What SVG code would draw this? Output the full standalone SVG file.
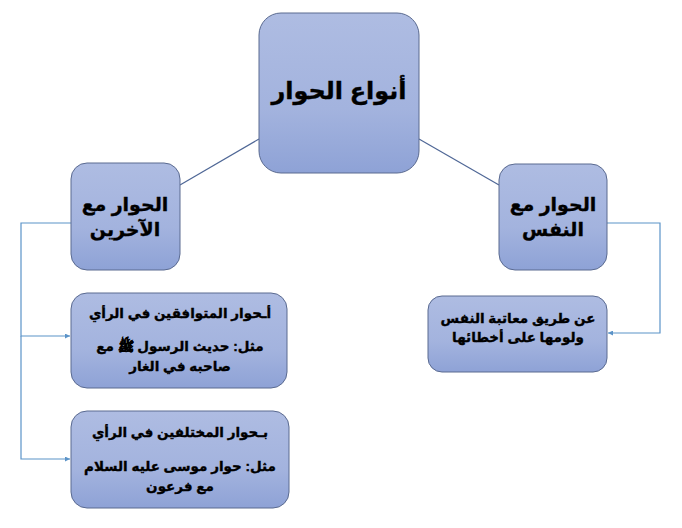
<svg xmlns="http://www.w3.org/2000/svg" width="682" height="528" viewBox="0 0 682 528">
<defs>
<linearGradient id="g" x1="0" y1="0" x2="0" y2="1">
<stop offset="0" stop-color="#aebce2"/>
<stop offset="0.6" stop-color="#a3b3de"/>
<stop offset="1" stop-color="#8ea2d6"/>
</linearGradient>
<marker id="arr" viewBox="0 0 10 10" refX="10" refY="5" markerWidth="5" markerHeight="5" orient="auto" markerUnits="userSpaceOnUse">
<path d="M0,0 L10,5 L0,10 z" fill="#5b93c8"/>
</marker>
<style>
.node{fill:url(#g);stroke:#5a6a90;stroke-width:1}
.t{font-family:"Liberation Sans","DejaVu Sans",sans-serif;font-weight:bold;fill:#000;stroke:#000;stroke-width:0.35;text-anchor:middle;direction:rtl}
.diag{stroke:#4f6796;stroke-width:1.2;fill:none}
.elbow{stroke:#5b93c8;stroke-width:1.2;fill:none}
</style>
</defs>
<rect width="682" height="528" fill="#fff"/>
<g id="connectors">
<line class="diag" x1="259" y1="139" x2="180" y2="185"/>
<line class="diag" x1="419" y1="139" x2="499" y2="185"/>
<polyline class="elbow" points="71,223 21,223 21,336 70,336" marker-end="url(#arr)"/>
<polyline class="elbow" points="21,336 21,459 70,459" marker-end="url(#arr)"/>
<polyline class="elbow" points="607,223 660,223 660,333 608,333" marker-end="url(#arr)"/>
</g>
<g id="root">
<rect class="node" x="259" y="13" width="160" height="160" rx="22"/>
<text class="t" x="339" y="99" font-size="24">أنواع الحوار</text>
</g>
<g id="others">
<rect class="node" x="71" y="163" width="109" height="107" rx="16"/>
<text class="t" x="125" y="211" font-size="19">الحوار مع</text>
<text class="t" x="125" y="236" font-size="19">الآخرين</text>
</g>
<g id="self">
<rect class="node" x="499" y="164" width="108" height="106" rx="16"/>
<text class="t" x="553" y="211" font-size="19">الحوار مع</text>
<text class="t" x="553" y="236" font-size="19">النفس</text>
</g>
<g id="boxA">
<rect class="node" x="71" y="293" width="216" height="95" rx="16"/>
<text class="t" x="180" y="318" font-size="13.5">أـحوار المتوافقين في الرأي</text>
<text class="t" x="180" y="351" font-size="13.5">مثل: حديث الرسول ﷺ مع</text>
<text class="t" x="180" y="371" font-size="13.5">صاحبه في الغار</text>
</g>
<g id="boxB">
<rect class="node" x="71" y="411" width="218" height="97" rx="16"/>
<text class="t" x="180" y="437" font-size="13.5">بـحوار المختلفين في الرأي</text>
<text class="t" x="180" y="471" font-size="13.5">مثل: حوار موسى عليه السلام</text>
<text class="t" x="180" y="491" font-size="13.5">مع فرعون</text>
</g>
<g id="selfBox">
<rect class="node" x="428" y="296" width="179" height="76" rx="14"/>
<text class="t" x="518" y="323" font-size="13.5">عن طريق معاتبة النفس</text>
<text class="t" x="518" y="342" font-size="13.5">ولومها على أخطائها</text>
</g>
</svg>
